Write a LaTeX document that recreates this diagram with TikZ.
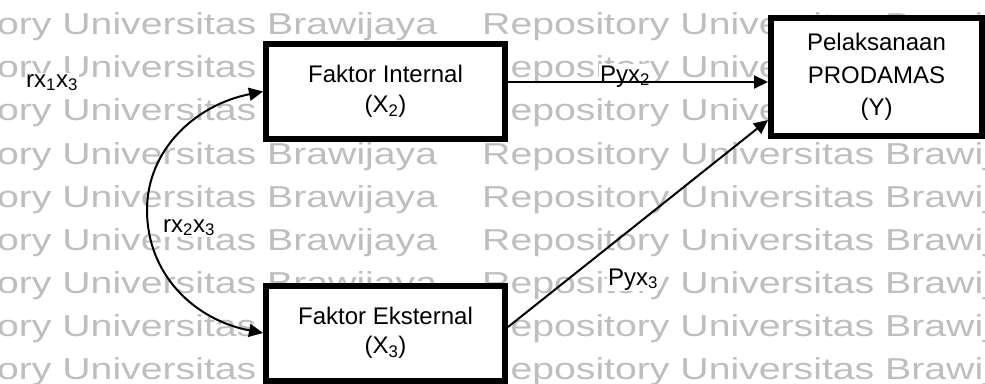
\documentclass[tikz,border=0pt]{standalone}
\usepackage{fontspec}
\setmainfont{Liberation Sans}
\newfontfamily\wmfont[FakeStretch=1.294]{Liberation Sans}
\usetikzlibrary{arrows.meta}
\definecolor{wm}{RGB}{190,190,190}
\begin{document}
\begin{tikzpicture}[x=1pt,y=-1pt,
  box/.style={draw, line width=6pt, fill=white, minimum width=239pt, minimum height=95pt,
    align=center, inner sep=0pt, font=\fontsize{24}{29.5}\selectfont},
  lbl/.style={fill=white, inner sep=1pt, anchor=base west, font=\fontsize{24}{28}\selectfont},
  conn/.style={line width=2pt, -{Triangle[length=14pt,width=13pt]}},
  both/.style={line width=2pt, {Triangle[length=14pt,width=13pt]}-{Triangle[length=14pt,width=13pt]}},
  wmtext/.style={anchor=base west, inner sep=0pt, text=wm, font=\wmfont\fontsize{30.3}{36}\selectfont}
]
\useasboundingbox (0,0) rectangle (985,383);
\begin{scope}
  \clip (0,0) rectangle (985,383);
  \foreach \k in {-1,...,9} {
    \node[wmtext] (wmA\k) at (-136, 34.7+43.1*\k) {Repository Universitas Brawijaya};
    \node[wmtext] (wmB\k) at (482, 34.7+43.1*\k) {Repository Universitas Brawijaya};
  }
\end{scope}

\node[box] (int) at (385.5,91.5) {Faktor Internal\\(X\textsubscript{2})};
\node[box] (ext) at (385.5,333) {Faktor Eksternal\\(X\textsubscript{3})};
\node[box, minimum width=211pt, minimum height=118pt, font=\fontsize{24}{32.5}\selectfont]
  (pel) at (876.5,77) {Pelaksanaan\\PRODAMAS\\(Y)};

\node[lbl] (l1) at (25,87) {rx\textsubscript{1}x\textsubscript{3}};
\node[lbl] (l2) at (162,232) {rx\textsubscript{2}x\textsubscript{3}};
\node[lbl] (p2) at (599,82) {Pyx\textsubscript{2}};
\node[lbl] (p3) at (607,285) {Pyx\textsubscript{3}};

\coordinate (bend) at (147,210);
\draw[conn] ([yshift=9.5pt]int.east) -- ([yshift=-5pt]pel.west);
\draw[conn] ([yshift=6pt]ext.east) -- ([yshift=-43pt]pel.west);
\draw[both] (int.west) .. controls (195,105) and (147,150) .. (bend)
  .. controls (147,275) and (195,320) .. (ext.west);
\end{tikzpicture}
\end{document}
